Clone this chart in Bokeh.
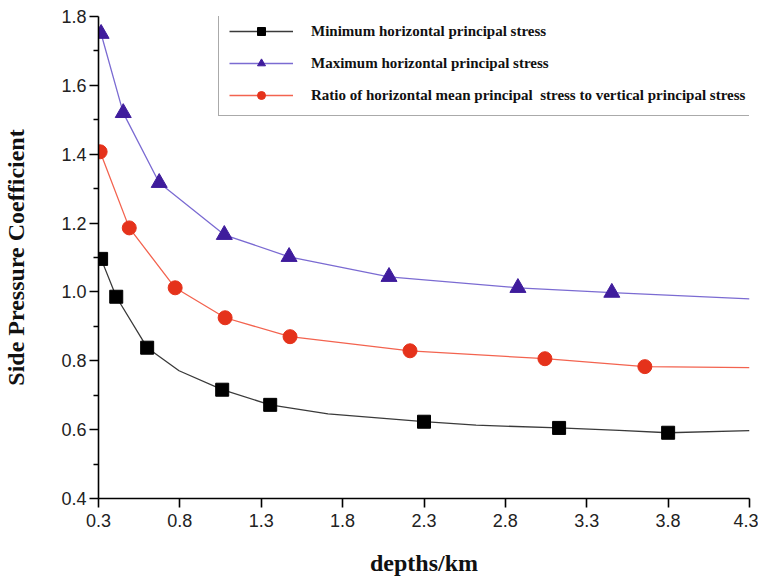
from bokeh.plotting import figure
from bokeh.models import Range1d, FixedTicker, PrintfTickFormatter, Legend, LegendItem
from bokeh.embed import file_html
from bokeh.resources import INLINE

# ---- data ----
min_x = [0.316, 0.409, 0.599, 1.06, 1.355, 2.30, 3.13, 3.80]
min_y = [1.096, 0.986, 0.838, 0.716, 0.672, 0.623, 0.605, 0.591]
min_line_x = [0.316, 0.409, 0.599, 0.795, 1.06, 1.355, 1.71, 2.30, 2.62, 3.13, 3.50, 3.80, 4.3]
min_line_y = [1.096, 0.986, 0.838, 0.771, 0.716, 0.672, 0.646, 0.623, 0.613, 0.605, 0.598, 0.591, 0.597]

max_x = [0.316, 0.452, 0.673, 1.073, 1.471, 2.085, 2.877, 3.454]
max_y = [1.750, 1.520, 1.317, 1.166, 1.102, 1.044, 1.012, 0.998]
max_line_x = max_x + [4.3]
max_line_y = max_y + [0.980]

ratio_x = [0.31, 0.489, 0.771, 1.078, 1.477, 2.214, 3.043, 3.657]
ratio_y = [1.407, 1.186, 1.012, 0.925, 0.870, 0.829, 0.806, 0.783]
ratio_line_x = ratio_x + [4.3]
ratio_line_y = ratio_y + [0.780]

x_ticks = [0.3, 0.8, 1.3, 1.8, 2.3, 2.8, 3.3, 3.8, 4.3]
y_ticks = [0.4, 0.6, 0.8, 1.0, 1.2, 1.4, 1.6, 1.8]
y_minor = [0.5, 0.7, 0.9, 1.1, 1.3, 1.5, 1.7]

labels = ["Minimum horizontal principal stress",
          "Maximum horizontal principal stress",
          "Ratio of horizontal mean principal  stress to vertical principal stress"]
x_title = "depths/km"
y_title = "Side Pressure Coefficient"

p = figure(frame_width=651, frame_height=482, min_border_left=97, min_border_right=9,
           min_border_top=16, min_border_bottom=72,
           x_range=Range1d(0.3, 4.3), y_range=Range1d(0.4, 1.8),
           output_backend="svg", toolbar_location=None)
p.outline_line_color = None
p.xgrid.visible = False
p.ygrid.visible = False

BLACK_LINE = "#3a3a3a"
BLUE_LINE = "#7b6bd2"
BLUE_MARK = "#3f1c9c"
RED_LINE = "#f3634f"
RED_MARK = "#e5321b"

l1 = p.line(min_line_x, min_line_y, line_color=BLACK_LINE, line_width=1.3)
m1 = p.scatter(min_x, min_y, marker="square", size=13, fill_color="black", line_color="black")
l2 = p.line(max_line_x, max_line_y, line_color=BLUE_LINE, line_width=1.3)
m2 = p.scatter(max_x, max_y, marker="triangle", size=16, fill_color=BLUE_MARK, line_color=BLUE_MARK)
l3 = p.line(ratio_line_x, ratio_line_y, line_color=RED_LINE, line_width=1.3)
m3 = p.scatter(ratio_x, ratio_y, marker="circle", size=14, fill_color=RED_MARK, line_color=RED_MARK)

legend = Legend(items=[LegendItem(label=labels[0], renderers=[l1, m1]),
                       LegendItem(label=labels[1], renderers=[l2, m2]),
                       LegendItem(label=labels[2], renderers=[l3, m3])],
                location=(120, 382), padding=10, spacing=12,
                glyph_width=64, glyph_height=20, label_standoff=18, label_height=20,
                label_text_font="Liberation Serif", label_text_font_style="bold",
                label_text_font_size="15px", label_text_color="#111",
                border_line_color="#555", border_line_width=1.5,
                background_fill_color="white", background_fill_alpha=1.0)
p.add_layout(legend)

for ax in (p.xaxis[0], p.yaxis[0]):
    ax.axis_line_width = 1.6
    ax.axis_line_color = "black"
    ax.major_tick_line_color = "black"
    ax.major_tick_line_width = 1.6
    ax.major_tick_out = 9
    ax.major_tick_in = 0
    ax.minor_tick_out = 5
    ax.minor_tick_in = 0
    ax.minor_tick_line_width = 1.4
    ax.minor_tick_line_color = "black"
    ax.major_label_text_font = "Liberation Sans"
    ax.major_label_text_font_size = "18px"
    ax.major_label_text_color = "#222"
    ax.axis_label_text_font = "Liberation Serif"
    ax.axis_label_text_font_style = "bold"
    ax.axis_label_text_font_size = "24px"
    ax.axis_label_text_color = "#111"
    ax.formatter = PrintfTickFormatter(format="%.1f")

p.xaxis[0].ticker = FixedTicker(ticks=x_ticks)
p.xaxis[0].minor_tick_line_color = None
p.xaxis[0].axis_label = x_title
p.xaxis[0].major_label_standoff = 6
p.xaxis[0].axis_label_standoff = 20

p.yaxis[0].ticker = FixedTicker(ticks=y_ticks, minor_ticks=y_minor)
p.yaxis[0].axis_label = y_title
p.yaxis[0].major_label_standoff = 3
p.yaxis[0].axis_label_standoff = 29

open("out.html", "w").write(file_html(p, INLINE))
